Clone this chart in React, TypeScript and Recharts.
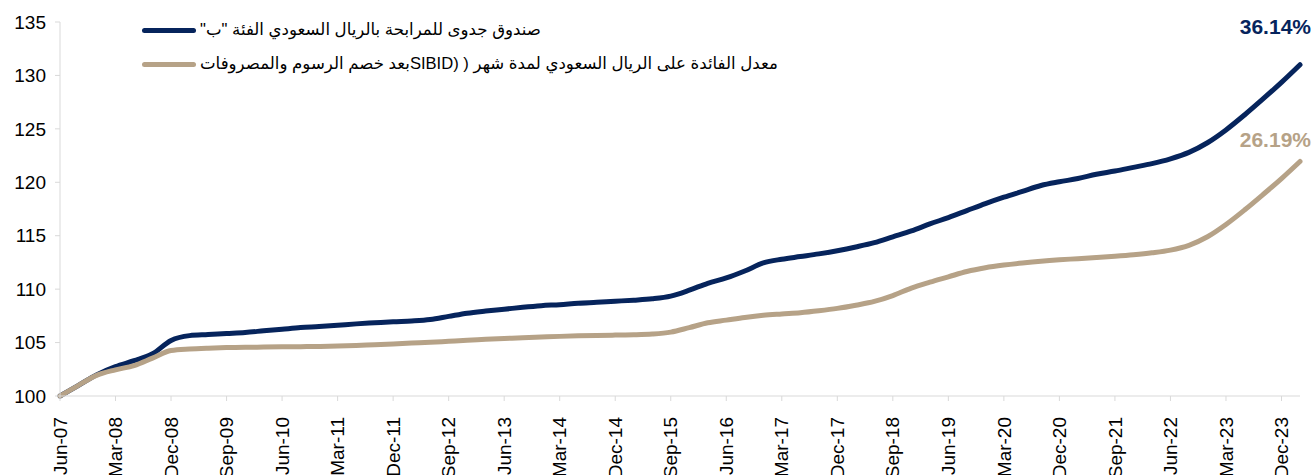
import { LineChart, Line, XAxis, YAxis } from 'recharts'

document.body.style.margin = '0'

const NAVY = '#06245c'
const TAN = '#b6a287'
const AXIS = '#d9d9d9'
const FONT = '"Liberation Sans", Arial, "DejaVu Sans", sans-serif'

// quarterly points, Jun-07 .. Mar-24
const quarters = [
  'Jun-07', 'Sep-07', 'Dec-07', 'Mar-08', 'Jun-08', 'Sep-08', 'Dec-08', 'Mar-09',
  'Jun-09', 'Sep-09', 'Dec-09', 'Mar-10', 'Jun-10', 'Sep-10', 'Dec-10', 'Mar-11',
  'Jun-11', 'Sep-11', 'Dec-11', 'Mar-12', 'Jun-12', 'Sep-12', 'Dec-12', 'Mar-13',
  'Jun-13', 'Sep-13', 'Dec-13', 'Mar-14', 'Jun-14', 'Sep-14', 'Dec-14', 'Mar-15',
  'Jun-15', 'Sep-15', 'Dec-15', 'Mar-16', 'Jun-16', 'Sep-16', 'Dec-16', 'Mar-17',
  'Jun-17', 'Sep-17', 'Dec-17', 'Mar-18', 'Jun-18', 'Sep-18', 'Dec-18', 'Mar-19',
  'Jun-19', 'Sep-19', 'Dec-19', 'Mar-20', 'Jun-20', 'Sep-20', 'Dec-20', 'Mar-21',
  'Jun-21', 'Sep-21', 'Dec-21', 'Mar-22', 'Jun-22', 'Sep-22', 'Dec-22', 'Mar-23',
  'Jun-23', 'Sep-23', 'Dec-23', 'Mar-24',
]

const fundValues = [
  100.0, 101.0, 102.0, 102.75, 103.3, 103.95, 105.2, 105.65,
  105.75, 105.85, 105.95, 106.1, 106.25, 106.4, 106.5, 106.62,
  106.75, 106.85, 106.95, 107.02, 107.15, 107.45, 107.75, 107.95,
  108.12, 108.3, 108.45, 108.55, 108.68, 108.77, 108.87, 108.97,
  109.1, 109.35, 109.9, 110.55, 111.05, 111.7, 112.45, 112.8,
  113.05, 113.3, 113.6, 113.95, 114.35, 114.9, 115.45, 116.1,
  116.7, 117.35, 118.0, 118.6, 119.15, 119.7, 120.05, 120.35,
  120.75, 121.05, 121.4, 121.75, 122.2, 122.8, 123.7, 124.9,
  126.3, 127.8, 129.35, 131.0,
]

const sibidValues = [
  100.0, 101.0, 101.95, 102.45, 102.85, 103.55, 104.25, 104.4,
  104.48, 104.53, 104.56, 104.58, 104.6, 104.62, 104.64, 104.68,
  104.73, 104.8, 104.87, 104.95, 105.02, 105.12, 105.22, 105.3,
  105.38, 105.46, 105.52, 105.58, 105.63, 105.67, 105.7, 105.73,
  105.8, 105.98, 106.4, 106.85, 107.1, 107.35, 107.55, 107.68,
  107.8, 107.98, 108.2, 108.5, 108.85, 109.4, 110.1, 110.65,
  111.15, 111.65, 112.0, 112.25, 112.45, 112.62, 112.75, 112.85,
  112.96, 113.08, 113.22, 113.4, 113.65, 114.1, 114.9, 116.05,
  117.4, 118.85, 120.35, 121.95,
]

const yTicks = [100, 105, 110, 115, 120, 125, 130, 135]

const fundName = 'صندوق جدوى للمرابحة بالريال السعودي الفئة "ب"'
const sibidName = 'معدل الفائدة على الريال السعودي لمدة شهر ( (SIBIDبعد خصم الرسوم والمصروفات'
const fundReturn = '36.14%'
const sibidReturn = '26.19%'

const data = quarters.map((q, i) => ({ q, fund: fundValues[i], sibid: sibidValues[i] }))

function XTick({ x, y, payload }: any) {
  return (
    <g transform={`translate(${x},${y + 14}) rotate(-90)`}>
      <text x={0} y={0} dy="0.35em" textAnchor="end" fontSize={19} fontFamily={FONT} fill="#000">
        {payload.value}
      </text>
    </g>
  )
}

function LegendBox() {
  const rows = [
    { name: fundName, color: NAVY },
    { name: sibidName, color: TAN },
  ]
  return (
    <div style={{ position: 'absolute', left: 142, top: 13, fontFamily: FONT, fontSize: 16.6, color: '#000' }}>
      {rows.map(r => (
        <div key={r.name} style={{ display: 'flex', alignItems: 'center', height: 34 }}>
          <div style={{ width: 54, height: 5, borderRadius: 3, background: r.color, marginRight: 4 }} />
          <span dir="rtl" style={{ whiteSpace: 'nowrap' }}>{r.name}</span>
        </div>
      ))}
    </div>
  )
}

export default function App() {
  return (
    <div style={{ position: 'relative', width: 1313, height: 475, background: '#fff' }}>
      <LineChart width={1313} height={475} data={data} margin={{ top: 22, right: 13, left: 0, bottom: 0 }}>
        <XAxis
          dataKey="q"
          interval={2}
          height={79}
          stroke={AXIS}
          tickSize={5}
          tick={<XTick />}
        />
        <YAxis
          domain={[100, 135]}
          ticks={yTicks}
          width={60}
          stroke={AXIS}
          tickSize={5}
          tickMargin={9}
          tick={{ fontSize: 19, fontFamily: FONT, fill: '#000' }}
        />
        <Line type="monotone" dataKey="fund" stroke={NAVY} strokeWidth={5} dot={false} strokeLinecap="round" isAnimationActive={false} />
        <Line type="monotone" dataKey="sibid" stroke={TAN} strokeWidth={5} dot={false} strokeLinecap="round" isAnimationActive={false} />
      </LineChart>
      <LegendBox />
      <div style={{ position: 'absolute', right: 2, top: 15, lineHeight: '24px', fontFamily: FONT, fontWeight: 'bold', fontSize: 21, color: NAVY }}>
        {fundReturn}
      </div>
      <div style={{ position: 'absolute', right: 2, top: 128, lineHeight: '24px', fontFamily: FONT, fontWeight: 'bold', fontSize: 21, color: TAN }}>
        {sibidReturn}
      </div>
    </div>
  )
}
